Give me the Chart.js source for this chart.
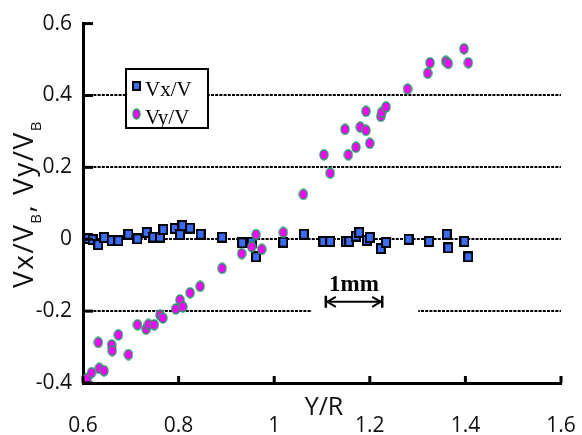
<!DOCTYPE html>
<html>
<head>
<meta charset="utf-8">
<script src="https://cdn.jsdelivr.net/npm/chart.js@4.4.1/dist/chart.umd.min.js"></script>
<style>
html,body{margin:0;padding:0;background:#fff;}
#wrap{width:582px;height:435px;position:relative;}
</style>
</head>
<body>
<div id="wrap"><canvas id="c" width="582" height="435"></canvas></div>
<script>
// ---- DATA ----
const vxX = [0.611,0.620,0.632,0.644,0.660,0.674,0.695,0.714,0.733,0.747,0.761,0.768,0.792,0.803,0.808,0.824,0.846,0.891,0.933,0.953,0.962,1.019,1.062,1.103,1.117,1.150,1.157,1.171,1.178,1.194,1.200,1.223,1.234,1.281,1.324,1.361,1.364,1.398,1.406];
const vxY = [0.002,-0.001,-0.015,0.005,-0.004,-0.004,0.014,0.001,0.019,0.006,0.006,0.027,0.030,0.013,0.038,0.031,0.014,0.006,-0.010,-0.008,-0.049,-0.008,0.014,-0.006,-0.006,-0.006,-0.006,0.009,0.019,-0.003,0.005,-0.026,-0.009,0.000,-0.006,0.014,-0.024,-0.006,-0.049];
const vyX = [0.609,0.618,0.634,0.644,0.632,0.660,0.661,0.674,0.695,0.714,0.732,0.737,0.749,0.761,0.767,0.794,0.803,0.809,0.824,0.845,0.891,0.932,0.953,0.962,0.974,1.019,1.061,1.104,1.117,1.148,1.155,1.171,1.180,1.192,1.192,1.200,1.223,1.225,1.234,1.279,1.321,1.326,1.359,1.364,1.397,1.406];
const vyY = [-0.387,-0.371,-0.359,-0.366,-0.287,-0.294,-0.310,-0.266,-0.321,-0.238,-0.250,-0.237,-0.238,-0.211,-0.219,-0.194,-0.169,-0.188,-0.149,-0.131,-0.081,-0.040,-0.021,0.013,-0.028,0.019,0.125,0.235,0.184,0.306,0.235,0.256,0.312,0.303,0.356,0.267,0.342,0.353,0.368,0.418,0.462,0.491,0.495,0.489,0.530,0.491];
const xTicks = [0.6,0.8,1,1.2,1.4,1.6];
const yTicks = [-0.4,-0.2,0,0.2,0.4,0.6];
const gridValues = [-0.2,0,0.2,0.4];
const seriesNames = ['Vx/V','Vy/V'];
const xTitle = 'Y/R';
const scaleLabel = '1mm';
const scaleBar = [1.108,1.226];   // data-space extent of the 1 mm bar
const scaleBarY = -0.174;

// ---- marker images ----
function squareImg(w,h){
  const c=document.createElement('canvas');c.width=w;c.height=h;
  const g=c.getContext('2d');
  g.fillStyle='#000';g.fillRect(0,0,w,h);
  g.fillStyle='#3b6cf2';g.fillRect(2,2,w-4,h-4);
  return c;
}
function ellipseImg(w,h){
  const c=document.createElement('canvas');c.width=w;c.height=h;
  const g=c.getContext('2d');
  g.fillStyle='#2e9468';
  g.beginPath();g.ellipse(w/2,h/2,w/2-0.3,h/2-0.3,0,0,Math.PI*2);g.fill();
  g.fillStyle='#ff00ff';
  g.beginPath();g.ellipse(w/2,h/2,w/2-1.9,h/2-1.9,0,0,Math.PI*2);g.fill();
  return c;
}
const sqImg = squareImg(10,11);
const elImg = ellipseImg(10,12);
const sqLeg = squareImg(9,10);
const elLeg = ellipseImg(9,12);

const SANS = '"Open Sans", "Noto Sans", sans-serif';

const decor = {
  id:'decor',
  afterDraw(chart){
    const {ctx, chartArea:a, scales:{x,y}} = chart;
    ctx.save();
    // inward ticks
    ctx.strokeStyle='#000';ctx.lineWidth=3;ctx.lineCap='butt';
    yTicks.forEach(v=>{const py=y.getPixelForValue(v);ctx.beginPath();ctx.moveTo(a.left,py);ctx.lineTo(a.left+10,py);ctx.stroke();});
    xTicks.forEach(v=>{const px=x.getPixelForValue(v);ctx.beginPath();ctx.moveTo(px,a.bottom);ctx.lineTo(px,a.bottom-7);ctx.stroke();});

    // legend box
    ctx.fillStyle='#fff';ctx.fillRect(126,69,82,59);
    ctx.lineWidth=2;ctx.strokeStyle='#000';ctx.strokeRect(126,69,82,59);
    ctx.drawImage(sqLeg,132,81);
    ctx.drawImage(elLeg,132,108);
    ctx.fillStyle='#000';ctx.font='21px "Liberation Serif", serif';
    ctx.textBaseline='alphabetic';ctx.textAlign='left';
    ctx.fillText(seriesNames[0],145,96);
    ctx.fillText(seriesNames[1],145,124);

    // 1 mm scale bar
    const x1=x.getPixelForValue(scaleBar[0]), x2=x.getPixelForValue(scaleBar[1]);
    const yb=y.getPixelForValue(scaleBarY);
    ctx.fillStyle='#fff';ctx.fillRect(x1-14,yb-36,(x2-x1)+50,y.getPixelForValue(-0.2)-yb+40);
    ctx.strokeStyle='#000';ctx.lineWidth=2;
    ctx.beginPath();ctx.moveTo(x1+1,yb);ctx.lineTo(x2-1,yb);ctx.stroke();
    ctx.lineWidth=2.5;
    ctx.beginPath();ctx.moveTo(x1,yb-6);ctx.lineTo(x1,yb+6);ctx.moveTo(x2,yb-6);ctx.lineTo(x2,yb+6);ctx.stroke();
    ctx.lineWidth=2;
    ctx.beginPath();
    ctx.moveTo(x1+10,yb-5);ctx.lineTo(x1+1.5,yb);ctx.lineTo(x1+10,yb+5);
    ctx.moveTo(x2-10,yb-5);ctx.lineTo(x2-1.5,yb);ctx.lineTo(x2-10,yb+5);
    ctx.stroke();
    ctx.fillStyle='#000';ctx.font='bold 23px "Liberation Serif", serif';
    ctx.textAlign='center';ctx.textBaseline='alphabetic';
    ctx.fillText(scaleLabel,(x1+x2)/2,yb-11);

    // x title
    ctx.font='25px '+SANS;ctx.fillStyle='#111';ctx.textAlign='center';
    ctx.fillText(xTitle,324,415);

    // y title with subscripts (rotated)
    ctx.translate(33,204);ctx.rotate(-Math.PI/2);
    const parts=[['Vx/V',0],['B',1],[', Vy/V',0],['B',1]];
    const big='28px '+SANS, small='15px '+SANS;
    try{ctx.letterSpacing='1.5px';}catch(e){}
    let total=0;
    parts.forEach(p=>{ctx.font=p[1]?small:big;total+=ctx.measureText(p[0]).width;});
    let cx=-total/2;
    ctx.textAlign='left';
    parts.forEach(p=>{ctx.font=p[1]?small:big;ctx.fillText(p[0],cx,p[1]?8:0);cx+=ctx.measureText(p[0]).width;});
    ctx.restore();
  }
};

new Chart(document.getElementById('c'),{
  type:'scatter',
  data:{datasets:[
    {label:seriesNames[0],data:vxX.map((v,i)=>({x:v,y:vxY[i]})),pointStyle:sqImg,pointRadius:5,order:1},
    {label:seriesNames[1],data:vyX.map((v,i)=>({x:v,y:vyY[i]})),pointStyle:elImg,pointRadius:5,order:0}
  ]},
  options:{
    responsive:false,animation:false,
    layout:{padding:{top:23,right:21,left:0,bottom:0}},
    plugins:{legend:{display:false},tooltip:{enabled:false}},
    scales:{
      x:{type:'linear',min:0.6,max:1.6,
        afterBuildTicks:s=>{s.ticks=xTicks.map(v=>({value:v}));},
        afterFit:s=>{s.height=52;},
        ticks:{callback:v=>String(v),font:{family:SANS,size:21},color:'#111',padding:0,maxRotation:0},
        grid:{display:true,drawOnChartArea:false,drawTicks:true,tickLength:30,tickColor:'rgba(0,0,0,0)'},
        border:{display:true,color:'#000',width:3}
      },
      y:{type:'linear',min:-0.4,max:0.6,
        afterBuildTicks:s=>{s.ticks=yTicks.map(v=>({value:v}));},
        afterFit:s=>{s.width=83;},
        ticks:{callback:v=>String(v),font:{family:SANS,size:21},color:'#111',padding:11},
        grid:{drawTicks:false,lineWidth:2,
          color:c=>(c.tick && gridValues.includes(c.tick.value))?'#000':'rgba(0,0,0,0)'},
        border:{display:true,color:'#000',width:3,dash:[3,1.2]}
      }
    }
  },
  plugins:[decor]
});
</script>
</body>
</html>
